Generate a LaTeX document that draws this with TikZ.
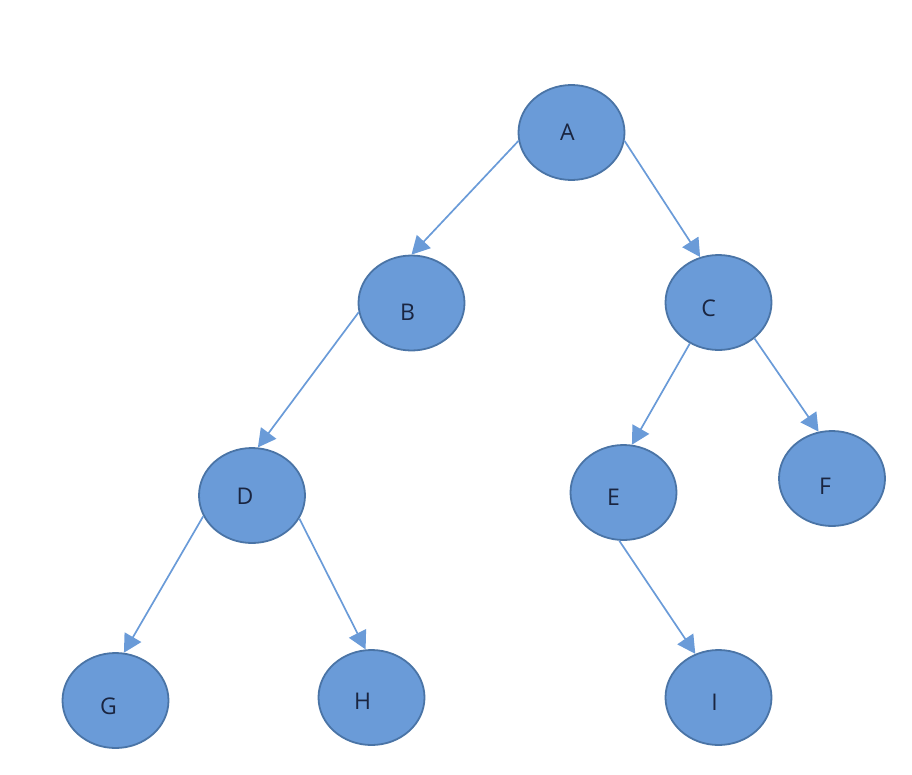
\documentclass[tikz,border=0pt]{standalone}
\usepackage{fontspec}
\setmainfont{Open Sans}
\usetikzlibrary{arrows.meta,shapes.geometric}
\definecolor{nodefill}{HTML}{6A9BD8}
\definecolor{nodeborder}{HTML}{4A74A6}
\definecolor{edgecol}{HTML}{6A9BD8}
\definecolor{txtcol}{HTML}{1A2540}
\begin{document}
\begin{tikzpicture}[x=1pt,y=-1pt,
  treenode/.style={ellipse, draw=nodeborder, fill=nodefill, line width=1.8pt,
    minimum width=106pt, minimum height=95pt, inner sep=0pt},
  lbl/.style={text=txtcol, font=\fontsize{23}{23}\selectfont, inner sep=0pt},
  edge/.style={draw=edgecol, line width=1.7pt,
    -{Triangle[length=18pt,width=19pt]}}]
\useasboundingbox (0,0) rectangle (912,774);
\node[treenode, label={[lbl, xshift=-4pt, yshift=0pt]center:A}] (A) at (571.5,132.5) {};
\node[treenode, label={[lbl, xshift=-4pt, yshift=-9pt]center:B}] (B) at (411.5,303) {};
\node[treenode, label={[lbl, xshift=-10pt, yshift=-6pt]center:C}] (C) at (718.5,302.5) {};
\node[treenode, label={[lbl, xshift=-7pt, yshift=-1pt]center:D}] (D) at (252,495.5) {};
\node[treenode, label={[lbl, xshift=-10pt, yshift=-5pt]center:E}] (E) at (623.5,492.5) {};
\node[treenode, label={[lbl, xshift=-7pt, yshift=-8pt]center:F}] (F) at (832,478.5) {};
\node[treenode, label={[lbl, xshift=-7pt, yshift=-6pt]center:G}] (G) at (115.5,700.5) {};
\node[treenode, label={[lbl, xshift=-9pt, yshift=-4pt]center:H}] (H) at (371.5,697.5) {};
\node[treenode, label={[lbl, xshift=-4pt, yshift=-5pt]center:I}] (I) at (718.5,697.5) {};
\draw[edge] (A.189) -- (B.90);
\draw[edge] (A.351) -- (C.112);
\draw[edge] (B.190) -- (D.83);
\draw[edge] (C.235) -- (E.80);
\draw[edge] (C.315) -- (F.106);
\draw[edge] (D.203) -- (G.80);
\draw[edge] (D.334) -- (H.97);
\draw[edge] (E.265) -- (I.118);
\end{tikzpicture}
\end{document}
